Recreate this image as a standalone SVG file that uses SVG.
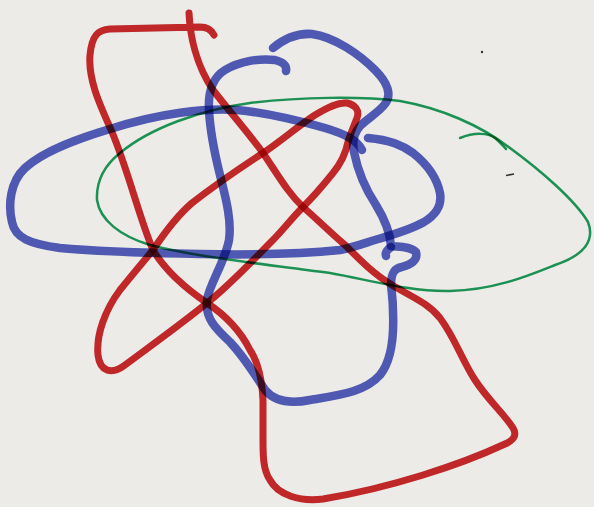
<svg xmlns="http://www.w3.org/2000/svg" width="594" height="507" viewBox="0 0 594 507">
<style>
.ink{fill:none;stroke-linecap:round;stroke-linejoin:round;mix-blend-mode:multiply}
.red{stroke:#cf2a2c;stroke-width:7}
.blue{stroke:#5560c4;stroke-width:8.5}
.green{stroke:#1f9c5c;stroke-width:2.5}
</style>
<rect x="0" y="0" width="594" height="507" fill="#ecebe7"/>
<g id="green">
<path class="ink green" d="M 120,153 C 150,128 200,110 250,103 C 300,97 360,96 400,101 C 440,108 480,125 510,148 C 540,170 575,200 588,222 C 595,240 585,255 555,265 C 530,275 495,290 450,291 C 410,292 370,280 330,273 C 280,266 200,258 150,245 C 120,236 100,220 97,200 C 96,180 105,165 120,153 Z"/>
<path class="ink green" d="M 460,138 C 475,132 488,133 495,138 C 500,142 503,146 506,149"/>
</g>
<g id="red">
<path class="ink red" d="M 189,13 C 190,35 196,65 213,90 C 230,112 250,135 263,153 C 278,175 288,193 303,207 C 320,222 333,235 345,245 C 362,262 375,275 392,285 C 412,297 428,303 440,318 C 455,338 462,360 475,380 C 488,400 505,415 513,428 C 518,436 512,441 505,444 C 460,465 390,488 323,499 C 300,502 278,495 270,480 C 263,470 263,455 263,440 L 263,400 C 262,380 258,362 250,350 C 240,330 225,315 207,303 C 185,288 165,270 153,250 C 140,220 128,170 112,132 C 100,105 88,80 90,55 C 92,35 98,30 110,29 L 200,27 Q 210,27 214,35"/>
<path class="ink red" d="M 153,250 C 165,232 178,215 192,203 C 215,185 240,168 263,153 C 280,142 298,126 315,115 C 328,107 338,102 347,103 C 355,105 360,110 357,118 C 353,128 350,135 348,142 C 346,152 342,162 333,173 C 325,183 315,195 303,207 C 292,218 283,230 273,240 C 255,258 230,285 207,303 C 180,325 145,350 125,365 C 112,375 100,372 98,355 C 96,335 105,310 120,290 C 132,275 143,262 153,250 Z"/>
</g>
<g id="blue">
<path class="ink blue" d="M 362,150 C 357,140 345,134 325,128 C 300,121 270,113 237,110 C 205,108 160,113 110,129 C 80,138 45,150 25,168 C 10,182 8,205 12,222 C 15,238 30,244 60,248 C 100,252 150,253 200,254 C 250,255 300,254 340,250 C 355,247 365,243 375,240 C 392,235 410,230 424,222 C 437,214 442,205 440,193 C 437,178 428,165 413,153 C 402,145 390,140 368,138"/>
<path class="ink blue" d="M 273,48 C 285,38 298,33 312,34 C 335,37 360,55 375,70 C 388,83 392,95 385,104 C 378,113 368,118 360,126 C 354,133 352,142 354,152 C 358,172 366,190 376,205 C 384,218 390,232 391,246 C 398,247 410,246 416,252 C 418,260 412,264 402,267 C 395,268 391,272 391,285 C 392,295 393,300 393,312 C 394,335 392,360 380,375 C 365,392 340,395 310,400 C 290,404 275,402 265,390 C 255,375 245,358 230,342 C 215,328 205,318 207,300 C 209,285 225,262 229,240 C 232,220 225,195 220,175 C 215,155 210,130 209,110 C 208,92 212,78 225,70 C 240,61 260,58 275,60 C 283,62 287,65 286,71"/>
<path class="ink blue" d="M 391,247 C 387,250 385,253 386,256"/>
</g>
<g id="specks" fill="#333">
<circle cx="482" cy="52" r="1.2"/>
<path d="M 506,175.5 L 514,174" stroke="#333" stroke-width="1.5"/>
</g>
</svg>
